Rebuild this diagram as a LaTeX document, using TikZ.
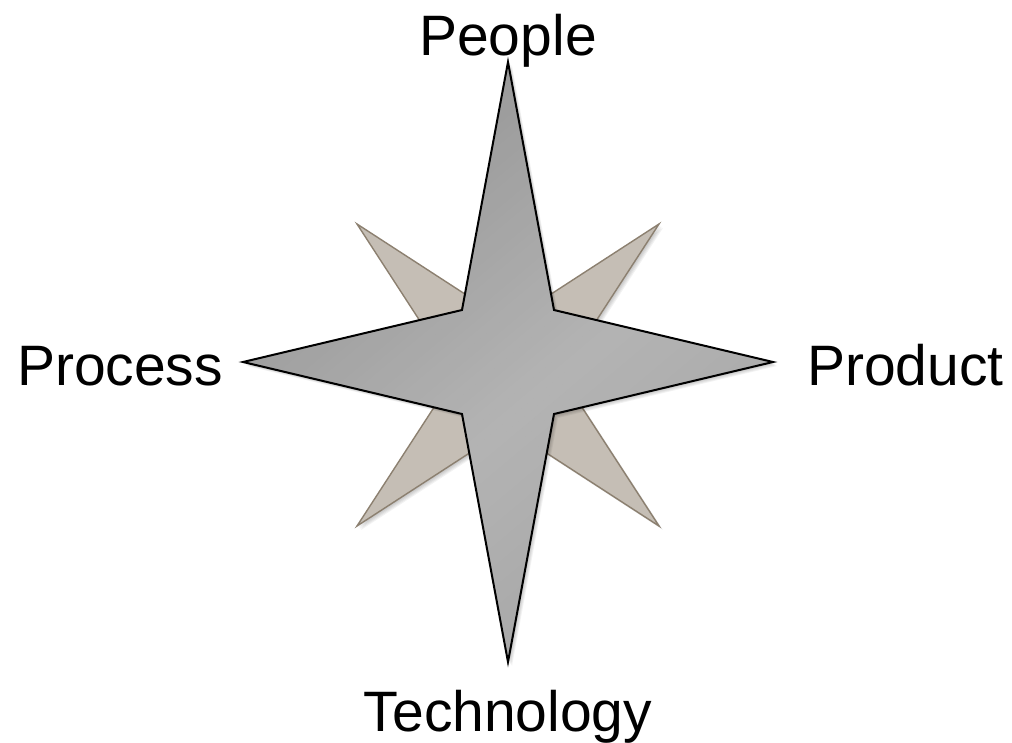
\documentclass[tikz,border=0pt]{standalone}
\usepackage{fontspec}
\setmainfont{Liberation Sans}
\definecolor{bgfill}{RGB}{197,190,181}
\definecolor{bgedge}{RGB}{140,128,112}
\tikzset{
  label text/.style={font=\fontsize{57}{60}\selectfont, inner sep=0pt, anchor=base, text=black},
  bgstar/.style={draw=bgedge, line width=1.4pt, line join=miter, fill=bgfill},
  mainedge/.style={draw=black, line width=2pt, line join=miter},
  shadowcopy/.style={fill=black, draw=none, opacity=0.05},
}
\begin{document}
\begin{tikzpicture}[x=1pt, y=-1pt]
\useasboundingbox (0,0) rectangle (1012,742);
% background star shadow
\foreach \d in {1,2,3,4,5}{
  \fill[shadowcopy, shift={(\d*0.8,\d*0.8)}] (357,224) -- (508,322) -- (659,224) -- (561,375) -- (659,526) -- (508,428) -- (357,526) -- (455,375) -- cycle;
}
% background star
\path[bgstar] (357,224) -- (508,322) -- (659,224) -- (561,375) -- (659,526) -- (508,428) -- (357,526) -- (455,375) -- cycle;
% main star shadow
\foreach \d in {1,2,3,4,5}{
  \fill[shadowcopy, shift={(\d*0.8,\d*0.8)}] (508,62) -- (554,310) -- (773,362) -- (554,414) -- (508,662) -- (462,414) -- (243,362) -- (462,310) -- cycle;
}
% main star gradient fill (strips)
\begin{scope}
  \clip (508,62) -- (554,310) -- (773,362) -- (554,414) -- (508,662) -- (462,414) -- (243,362) -- (462,310) -- cycle;
  \begin{scope}[shift={(508,362)}, rotate=-50]
    \foreach \i in {0,...,80}{
      \pgfmathsetmacro{\s}{-324+8*\i}
      \pgfmathsetmacro{\up}{148+((\s+300)/340)*32}
      \pgfmathsetmacro{\down}{180-((\s-40)/260)*15}
      \pgfmathtruncatemacro{\g}{\s<40 ? \up : \down}
      \pgfmathtruncatemacro{\gg}{max(140,min(182,\g))}
      \definecolor{stripcol}{RGB}{\gg,\gg,\gg}
      \fill[stripcol] (\s,-500) rectangle (\s+8.6,500);
    }
  \end{scope}
\end{scope}
% main star outline
\path[mainedge] (508,62) -- (554,310) -- (773,362) -- (554,414) -- (508,662) -- (462,414) -- (243,362) -- (462,310) -- cycle;
% labels
\node[label text] (people) at (508,55) {People};
\node[label text] (technology) at (508,731) {Technology};
\node[label text] (process) at (120,385) {Process};
\node[label text] (product) at (905.5,385) {Product};
\end{tikzpicture}
\end{document}
